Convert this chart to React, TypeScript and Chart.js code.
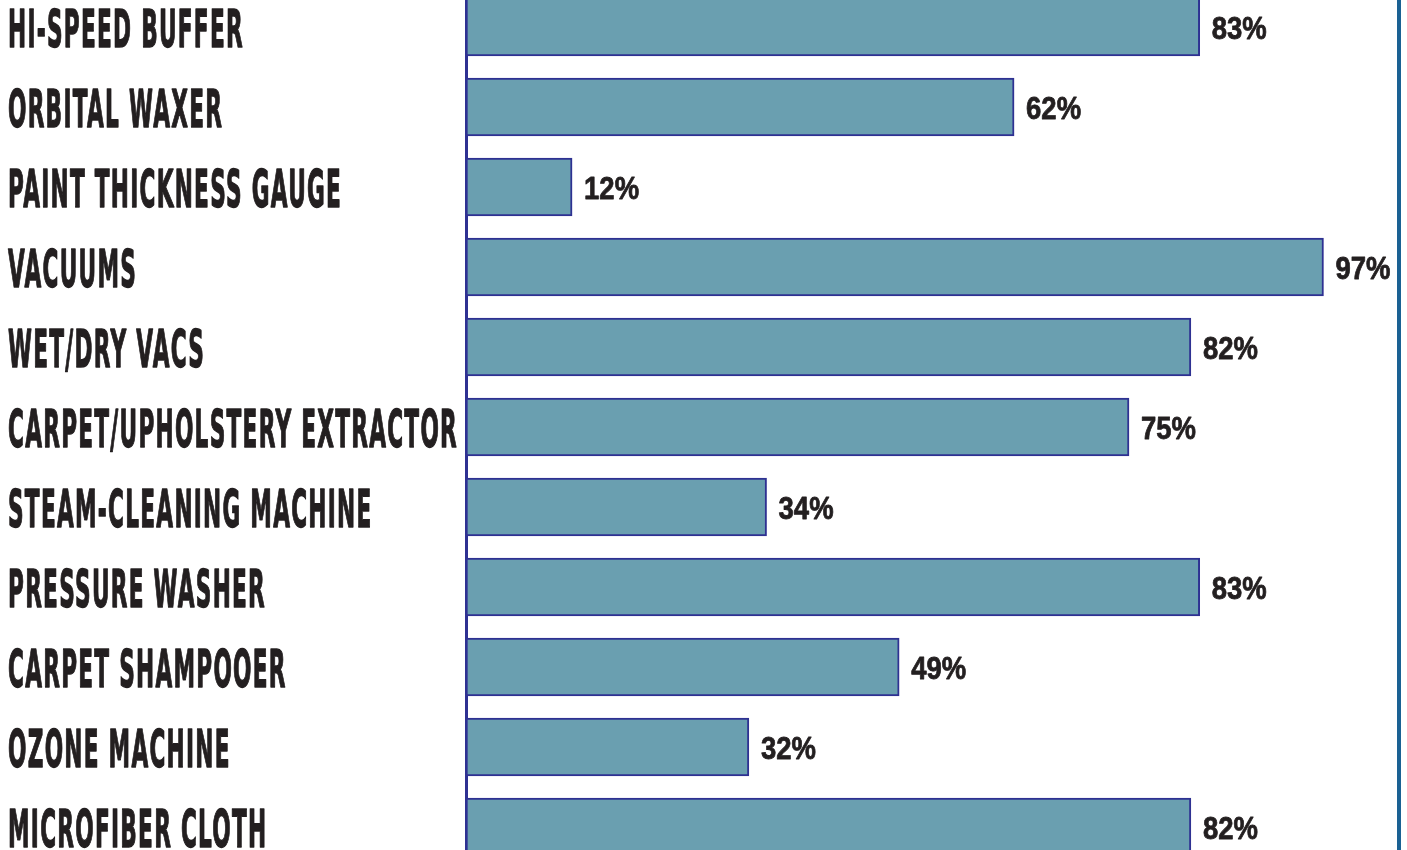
import React, { useEffect, useRef } from "react";
import { Chart, registerables } from "chart.js";

Chart.register(...registerables);

const categories = [
  "HI-SPEED BUFFER",
  "ORBITAL WAXER",
  "PAINT THICKNESS GAUGE",
  "VACUUMS",
  "WET/DRY VACS",
  "CARPET/UPHOLSTERY EXTRACTOR",
  "STEAM-CLEANING MACHINE",
  "PRESSURE WASHER",
  "CARPET SHAMPOOER",
  "OZONE MACHINE",
  "MICROFIBER CLOTH",
];
const values = [83, 62, 12, 97, 82, 75, 34, 83, 49, 32, 82];
const valueLabels = values.map((v) => `${v}%`);

const TEXT_COLOR = "#231f20";
const BAR_FILL = "#6a9fb0";
const BAR_BORDER = "#2e3192";
const FRAME_COLOR = "#1a6193";

const textPlugin = {
  id: "textPlugin",
  afterDraw(chart: any) {
    const ctx = chart.ctx as CanvasRenderingContext2D;
    const y = chart.scales.y;
    const x = chart.scales.x;
    ctx.save();
    ctx.fillStyle = TEXT_COLOR;
    ctx.strokeStyle = TEXT_COLOR;
    ctx.lineJoin = "round";
    ctx.textBaseline = "alphabetic";
    ctx.textAlign = "left";
    // category labels (condensed heavy)
    ctx.font = 'bold 51px "DejaVu Sans"';
    (ctx as any).letterSpacing = "3px";
    const ref = ctx.measureText("CARPET/UPHOLSTERY EXTRACTOR").width;
    const sx = 450 / ref;
    categories.forEach((c, i) => {
      const py = y.getPixelForValue(i);
      ctx.save();
      ctx.translate(8, py + 19.5);
      ctx.scale(sx, 1);
      ctx.lineWidth = 1.4;
      ctx.fillText(c, 0, 0);
      ctx.strokeText(c, 0, 0);
      ctx.restore();
    });
    (ctx as any).letterSpacing = "0px";
    // value labels
    ctx.font = 'bold 32px "Liberation Sans"';
    const ref2 = ctx.measureText("97%").width;
    const sx2 = 55 / ref2;
    values.forEach((v, i) => {
      const py = y.getPixelForValue(i);
      const px = x.getPixelForValue(v) + 12;
      ctx.save();
      ctx.translate(px, py + 11.5);
      ctx.scale(sx2, 1);
      ctx.lineWidth = 0.8;
      ctx.fillText(valueLabels[i], 0, 0);
      ctx.strokeText(valueLabels[i], 0, 0);
      ctx.restore();
    });
    // right frame line
    ctx.fillStyle = FRAME_COLOR;
    ctx.fillRect(1397, 0, 4, chart.height);
    ctx.restore();
  },
};

export default function App() {
  const ref = useRef<HTMLCanvasElement | null>(null);
  useEffect(() => {
    const prevMargin = document.body.style.margin;
    document.body.style.margin = "0";
    const canvas = ref.current!;
    const chart = new Chart(canvas, {
      type: "bar",
      data: {
        labels: categories,
        datasets: [
          {
            data: values,
            backgroundColor: BAR_FILL,
            borderColor: BAR_BORDER,
            borderWidth: 2,
            borderSkipped: false,
            barThickness: 58,
          },
        ],
      },
      options: {
        indexAxis: "y",
        animation: false,
        responsive: false,
        devicePixelRatio: 1,
        layout: { padding: { left: 466, right: 57, top: 0, bottom: 0 } },
        plugins: {
          legend: { display: false },
          tooltip: { enabled: false },
        },
        scales: {
          x: { display: false, min: 0, max: 100 },
          y: {
            display: true,
            offset: true,
            grid: { display: false, drawTicks: false },
            ticks: { display: false },
            border: { display: true, color: BAR_BORDER, width: 3 },
          },
        },
      },
      plugins: [textPlugin],
    });
    return () => {
      chart.destroy();
      document.body.style.margin = prevMargin;
    };
  }, []);
  return (
    <div
      style={{
        position: "fixed",
        left: 0,
        top: 0,
        width: 1407,
        height: 850,
        overflow: "hidden",
        background: "#fff",
      }}
    >
      <canvas
        ref={ref}
        width={1407}
        height={880}
        style={{ position: "absolute", left: 0, top: -13, width: 1407, height: 880 }}
      />
    </div>
  );
}
